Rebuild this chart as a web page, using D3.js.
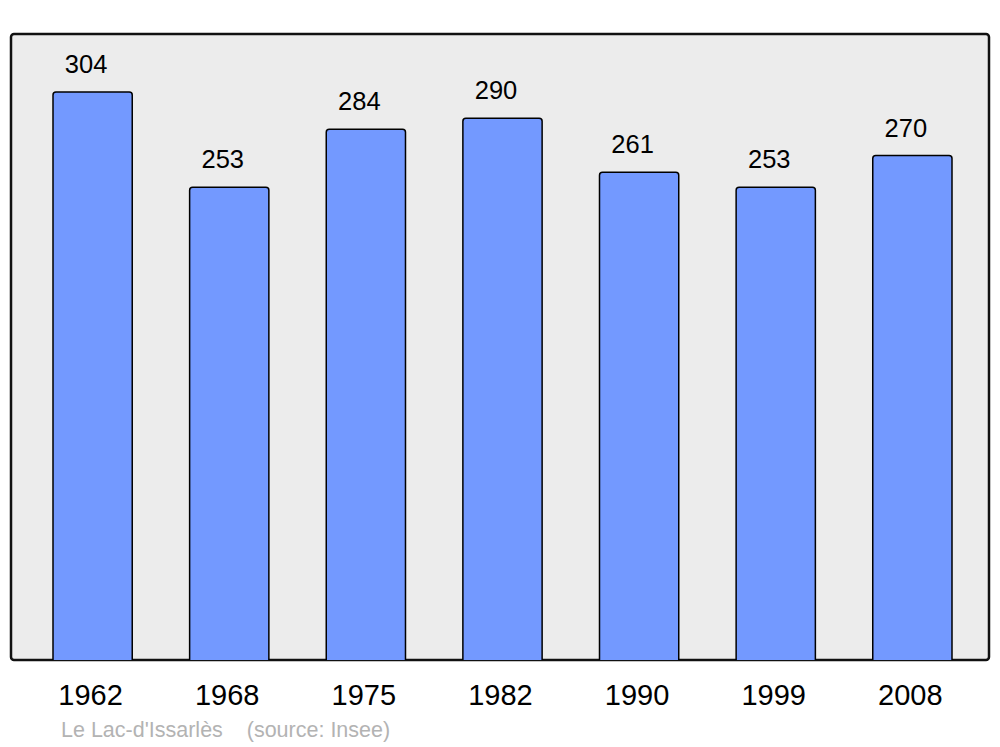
<!DOCTYPE html>
<html lang="fr">
<head>
<meta charset="UTF-8">
<title>Le Lac-d'Issarlès</title>
<script src="https://cdn.jsdelivr.net/npm/d3@7"></script>
<style>
  body { margin: 0; background: #fff; }
  text { font-family: "Liberation Sans", Arial, sans-serif; }
</style>
</head>
<body>
<svg width="1000" height="747"></svg>
<script>
// data
var years = ["1962", "1968", "1975", "1982", "1990", "1999", "2008"];
var population = [304, 253, 284, 290, 261, 253, 270];
var commune = "Le Lac-d'Issarlès";
var source = "(source: Insee)";

var svg = d3.select("svg");
var panel = {left: 11, top: 34, right: 989, bottom: 660};

// background panel
svg.append("rect")
    .attr("x", panel.left)
    .attr("y", panel.top)
    .attr("width", panel.right - panel.left)
    .attr("height", panel.bottom - panel.top)
    .attr("rx", 3)
    .attr("fill", "#ececec")
    .attr("stroke", "#111")
    .attr("stroke-width", 2.5);

var x = d3.scaleBand()
    .domain(years)
    .range([53, 952])
    .paddingInner(0.42)
    .paddingOuter(0);

var y = d3.scaleLinear()
    .domain([0, d3.max(population)])
    .range([panel.bottom, 92]);

var data = years.map(function(d, i) { return {year: d, value: population[i]}; });

svg.selectAll(".bar")
    .data(data)
    .enter().append("path")
    .attr("class", "bar")
    .attr("d", function(d) {
        var x0 = x(d.year), x1 = x0 + x.bandwidth(), y0 = y(d.value), y1 = panel.bottom, r = 3;
        return "M" + x0 + "," + y1 +
            "V" + (y0 + r) + "Q" + x0 + "," + y0 + " " + (x0 + r) + "," + y0 +
            "H" + (x1 - r) + "Q" + x1 + "," + y0 + " " + x1 + "," + (y0 + r) +
            "V" + y1;
    })
    .attr("fill", "#7399ff")
    .attr("stroke", "#000")
    .attr("stroke-width", 1.5);

// value labels
svg.selectAll(".val")
    .data(data)
    .enter().append("text")
    .attr("class", "val")
    .attr("x", function(d) { return x(d.year) + x.bandwidth() / 2 - 6.5; })
    .attr("y", function(d) { return y(d.value) - 19; })
    .attr("text-anchor", "middle")
    .attr("font-size", 25.5)
    .attr("fill", "#000")
    .text(function(d) { return d.value; });

// year labels
svg.selectAll(".year")
    .data(data)
    .enter().append("text")
    .attr("class", "year")
    .attr("x", function(d) { return x(d.year) + x.bandwidth() / 2 - 2; })
    .attr("y", 705)
    .attr("text-anchor", "middle")
    .attr("font-size", 29)
    .attr("fill", "#000")
    .text(function(d) { return d.year; });

// source line
svg.append("text")
    .attr("x", 61)
    .attr("y", 737)
    .attr("font-size", 21.5)
    .attr("fill", "#b3b3b3")
    .style("white-space", "pre")
    .text(commune + "    " + source);
</script>
</body>
</html>
